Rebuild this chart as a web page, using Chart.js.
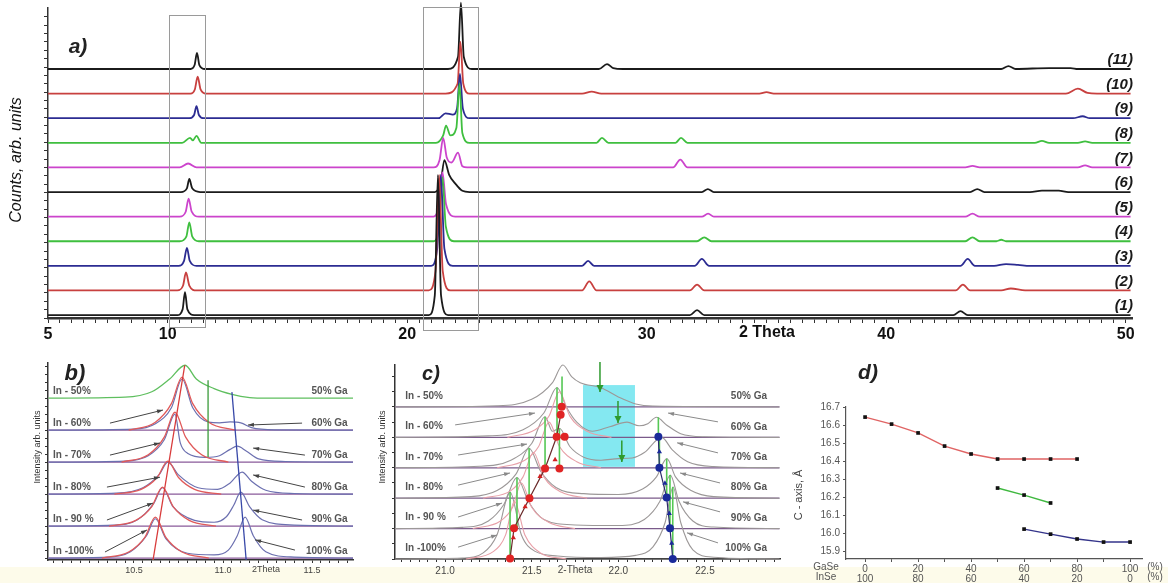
<!DOCTYPE html>
<html><head><meta charset="utf-8">
<script src="https://cdn.jsdelivr.net/npm/chart.js@4.4.1/dist/chart.umd.min.js"></script>
<style>
html,body{margin:0;padding:0;background:#fff;}
#wrap{position:relative;width:1168px;height:583px;overflow:hidden;background:#fff;}
#band{position:absolute;left:0;top:567px;width:1168px;height:16px;background:#fdfbea;}
canvas{position:absolute;left:0;top:0;}
</style></head><body>
<div id="wrap">
<div id="band"></div>
<canvas id="ca" width="1168" height="583"></canvas>
<canvas id="cb" width="1168" height="583"></canvas>
<canvas id="cc" width="1168" height="583"></canvas>
<canvas id="cd" width="1168" height="583"></canvas>
</div>
<script>
// ================= DATA =================
// ---- Panel a: XRD patterns, [2theta, counts above own baseline] ----
const aSeriesLabels = ['(1)','(2)','(3)','(4)','(5)','(6)','(7)','(8)','(9)','(10)','(11)'];
const aTickLabels = [5, 10, 20, 30, 40, 50];
const aS1 = [[5,0],[10.4,0],[10.62,2.3],[10.72,9.3],[10.82,2.3],[11.1,0],[20.9,0],[21.15,8],[21.28,57],[21.41,8],[21.7,0],[31.8,0],[32.1,2],[32.4,0],[42.8,0],[43.1,1.6],[43.4,0],[50.2,0]];
const aS2 = [[5,0],[10.4,0],[10.64,2],[10.76,7.3],[10.9,2],[11.2,0],[20.9,0],[21.18,8],[21.33,47],[21.48,8],[21.8,0],[27.3,0],[27.6,3.7],[27.9,0],[31.8,0],[32.1,2.4],[32.4,0],[42.9,0],[43.2,2.4],[43.5,0],[44.8,0],[45.2,0.8],[45.8,0],[50.2,0]];
const aS3 = [[5,0],[10.45,0],[10.68,2],[10.8,7.3],[10.92,2],[11.2,0],[21.0,0],[21.25,7],[21.4,37],[21.55,7],[21.9,0],[27.3,0],[27.55,2],[27.8,0],[32.0,0],[32.3,2.8],[32.6,0],[43.1,0],[43.4,2.8],[43.7,0],[44.5,0],[45,0.7],[45.5,0.4],[46,0],[50.2,0]];
const aS4 = [[5,0],[10.5,0],[10.78,2],[10.9,7.7],[11.02,2],[11.3,0],[21.1,0],[21.33,6],[21.47,26],[21.61,6],[21.95,0],[32.1,0],[32.4,1.6],[32.7,0],[43.3,0],[43.6,1.6],[43.9,0],[44.6,0],[44.8,0.6],[45,0],[50.2,0]];
const aS5 = [[5,0],[10.5,0],[10.75,2],[10.87,7.3],[11.0,2],[11.3,0],[21.1,0],[21.33,5],[21.47,18],[21.62,5],[22.0,0],[32.3,0],[32.56,1.2],[32.8,0],[43.3,0],[43.6,1.2],[43.9,0],[50.2,0]];
const aS6 = [[5,0],[10.55,0],[10.8,1.5],[10.9,5.3],[11.02,1.5],[11.35,0],[21.15,0],[21.4,4],[21.55,13],[21.75,7],[22.0,3.5],[22.3,0.5],[22.6,0],[32.3,0],[32.55,1.2],[32.8,0],[43.5,0],[43.8,1.2],[44.1,0],[46,0],[46.5,0.6],[47.2,0.6],[47.6,0],[50.2,0]];
const aS7 = [[5,0],[10.5,0],[10.85,1.6],[11.2,0],[21.1,0],[21.35,3],[21.5,12],[21.65,4],[21.85,2],[22.12,6],[22.3,0.5],[22.5,0],[31.1,0],[31.4,3.2],[31.7,0],[43.3,0],[43.6,0.6],[43.9,0],[48,0],[48.3,0.8],[48.6,0],[50.2,0]];
const aS8 = [[5,0],[10.6,0],[10.93,2],[11.05,1],[11.2,2.8],[11.4,0],[21.2,0],[21.5,3],[21.62,7],[21.8,3],[22.05,6],[22.18,24],[22.3,4],[22.6,0],[27.9,0],[28.13,2],[28.4,0],[31.2,0],[31.43,2],[31.7,0],[46.2,0],[46.5,0.8],[46.8,0],[48,0],[48.3,0.6],[48.6,0],[50.2,0]];
const aS9 = [[5,0],[10.9,0],[11.1,1.3],[11.2,4.9],[11.3,1.3],[11.5,0],[21.3,0],[21.6,2],[21.9,1.5],[22.08,4],[22.2,18],[22.32,4],[22.6,0],[47.8,0],[48.2,0.8],[48.5,0],[50.2,0]];
const aS10 = [[5,0],[10.95,0],[11.13,1.7],[11.25,6.9],[11.37,1.7],[11.6,0],[21.6,0],[22.1,4],[22.22,21],[22.34,4],[22.6,0],[27.3,0],[27.7,0.8],[28.1,0],[34.7,0],[35.0,0.6],[35.3,0],[47.5,0],[48.0,2],[48.4,0.3],[48.8,0],[50.2,0]];
const aS11 = [[5,0],[10.95,0],[11.12,1.6],[11.22,6.5],[11.32,1.6],[11.55,0],[21.7,0],[22.12,5],[22.24,27],[22.36,5],[22.7,0],[28.0,0],[28.34,2],[28.6,0.4],[29,0],[44.8,0],[45.1,1.2],[45.4,0],[46.8,0.4],[47.7,0.4],[48,0],[50.2,0]];

// ---- Panel b: (006)-region, levels 100% In (bottom) .. 50% In (top) ----
const bInLabels = ['In -100%','In - 90 %','In - 80%','In - 70%','In - 60%','In - 50%'];
const bGaLabels = ['100% Ga','90% Ga','80% Ga','70% Ga','60% Ga','50% Ga'];
const bTickValues = [10.5, 11.0, 11.5];
const bTickLabels = ['10.5', '11.0', '11.5'];
const bInCurves = [
  [[10.32,0],[10.47,1.9],[10.56,6.4],[10.62,12.8],[10.68,6.4],[10.77,1.9],[10.92,0]],
  [[10.36,0],[10.51,1.8],[10.60,6.1],[10.66,12.2],[10.72,6.1],[10.81,1.8],[10.96,0]],
  [[10.39,0],[10.54,1.5],[10.63,5.2],[10.69,10.3],[10.75,5.2],[10.84,1.5],[10.99,0]],
  [[10.43,0],[10.58,2.3],[10.67,7.8],[10.73,15.6],[10.79,7.8],[10.88,2.3],[11.03,0]],
  [[10.47,0],[10.62,2.5],[10.71,8.3],[10.77,16.6],[10.83,8.3],[10.92,2.5],[11.07,0]]
];
const bEnvCurves = [
  [[10.02,0],[10.35,0.3],[10.48,2],[10.57,7],[10.62,12.3],[10.68,6],[10.8,1.5],[10.95,1],[11.03,2.5],[11.08,7],[11.124,12.8],[11.17,7],[11.24,2],[11.4,0.3],[11.73,0]],
  [[10.02,0],[10.38,0.3],[10.52,2],[10.61,7],[10.66,12],[10.72,6],[10.84,1.8],[10.95,1.2],[11.02,3],[11.06,6.5],[11.10,10.6],[11.15,6],[11.22,2],[11.4,0.3],[11.73,0]],
  [[10.02,0],[10.4,0.3],[10.55,2],[10.64,6],[10.69,10],[10.75,6],[10.86,2],[10.97,1.5],[11.04,3.5],[11.107,6.9],[11.16,4],[11.24,1.2],[11.4,0.2],[11.73,0]],
  [[10.02,0],[10.45,0.3],[10.58,2],[10.67,7],[10.73,15],[10.76,6],[10.8,2.8],[10.9,1.5],[10.98,2],[11.04,4],[11.08,5],[11.13,3.5],[11.2,1],[11.35,0.2],[11.73,0]],
  [[10.02,0],[10.5,0.3],[10.62,2],[10.71,7],[10.77,16],[10.83,7],[10.92,2.5],[10.98,2.3],[11.04,2.6],[11.1,2.3],[11.16,0.8],[11.3,0.1],[11.73,0]]
];
const b50Curve = [[10.02,0],[10.45,0.3],[10.6,2],[10.7,6],[10.787,10.3],[10.85,6],[10.95,3],[11.05,1.2],[11.15,0.2],[11.25,0],[11.73,0]];
const bInTrend = [[10.607,-0.6],[10.785,60.3]];
const bGaTrend = [[11.13,-0.6],[11.05,51.9]];
const bGreenMark = [[10.916,31.6],[10.916,55.6]];

// ---- Panel c: (004)-region ----
const cTickValues = [21.0, 21.5, 22.0, 22.5];
const cTickLabels = ['21.0', '21.5', '22.0', '22.5'];
const cEnvCurves = [
  [[20.71,0],[21.1,0.3],[21.22,2],[21.3,8],[21.375,22],[21.44,8],[21.52,2.5],[21.65,1],[21.9,0.5],[22.1,1.2],[22.2,4],[22.27,12],[22.316,23.7],[22.36,12],[22.43,3],[22.55,0.6],[22.93,0]],
  [[20.71,0],[21.1,0.4],[21.25,2.5],[21.34,8],[21.415,16.8],[21.48,9],[21.57,3],[21.75,1.2],[22.0,1],[22.15,3],[22.24,9],[22.30,17.6],[22.35,9],[22.43,2.5],[22.55,0.5],[22.93,0]],
  [[20.71,0],[21.15,0.5],[21.3,2.5],[21.41,8],[21.485,16.4],[21.55,9],[21.64,3.5],[21.8,1.5],[22.0,1.2],[22.14,3],[22.22,7],[22.28,13],[22.33,7],[22.42,2.5],[22.55,0.5],[22.93,0]],
  [[20.71,0],[21.2,0.5],[21.38,2.5],[21.5,8],[21.577,16.8],[21.62,12],[21.66,13],[21.72,7],[21.8,3.5],[21.9,2.5],[22.0,3],[22.08,3.2],[22.15,5],[22.25,10],[22.31,6],[22.4,2],[22.55,0.4],[22.93,0]],
  [[20.71,0],[21.25,0.5],[21.45,2.5],[21.57,8],[21.646,16.4],[21.7,10],[21.76,5],[21.85,2],[21.95,3.5],[22.05,5],[22.12,3.8],[22.17,4.5],[22.22,6.6],[22.28,4],[22.36,1.2],[22.5,0.2],[22.93,0]],
  [[20.71,0],[21.3,0.4],[21.5,2.5],[21.62,8],[21.68,13.8],[21.73,10],[21.78,8],[21.9,6.3],[22.0,3.3],[22.1,1],[22.2,0.3],[22.93,0]]
];
const cPinkCurves = [
  [[21.12,0],[21.28,2.5],[21.35,8],[21.40,19],[21.46,8],[21.55,2],[21.7,0]],
  [[21.16,0],[21.32,2.5],[21.39,7],[21.44,15],[21.5,7],[21.6,2],[21.75,0]],
  [[21.22,0],[21.38,2.5],[21.45,7],[21.51,15],[21.57,7],[21.67,2],[21.82,0]],
  [[21.3,0],[21.46,2.5],[21.54,7],[21.6,15],[21.66,7],[21.76,2],[21.9,0]],
  [[21.36,0],[21.52,2.5],[21.6,7],[21.66,15],[21.72,7],[21.82,2],[21.96,0]]
];
const cInLabels = ['In -100%','In - 90 %','In - 80%','In - 70%','In - 60%','In - 50%'];
const cGaLabels = ['100% Ga','90% Ga','80% Ga','70% Ga','60% Ga','50% Ga'];
const cInDots = [[21.375,0.2],[21.398,10.1],[21.487,20.0],[21.577,29.8],[21.66,29.8],[21.644,40.2],[21.69,40.2],[21.667,47.4],[21.673,50.1]];
const cInSteps = [[21.394,7.0],[21.462,17.2],[21.548,27.1],[21.635,32.6]];
const cGaDots = [[22.314,0],[22.298,10.1],[22.279,20.2],[22.237,30.0],[22.231,40.2]];
const cGaSteps = [[22.308,5.2],[22.294,15.0],[22.269,24.9],[22.237,35.3]];
const cInTrend = [[21.375,0.2],[21.398,10.1],[21.487,20.0],[21.577,29.8],[21.644,40.2],[21.667,47.4]];
const cGaTrend = [[22.314,0],[22.298,10.1],[22.279,20.2],[22.237,30.0],[22.231,40.2]];
const cGreenMarks = [
  [[21.375,0],[21.375,22]],[[21.415,10],[21.415,26.8]],[[21.485,20],[21.485,36.4]],
  [[21.577,30],[21.577,46.8]],[[21.66,30],[21.66,43]],[[21.646,40],[21.646,56.4]],[[21.675,50],[21.675,60]],
  [[22.314,0],[22.314,23.7]],[[22.298,10],[22.298,27.6]],[[22.279,20],[22.279,33]],[[22.237,30],[22.237,40]],[[22.231,40],[22.231,46.6]]
];

// ---- Panel d: c-axis vs composition ----
const dGaSe = [0,10,20,30,40,50,60,70,80,90,100];
const dGaTickLabels = ['0','','20','','40','','60','','80','','100'];
const dInTickLabels = ['100','','80','','60','','40','','20','','0'];
const dYTicks = [15.9,16.0,16.1,16.2,16.3,16.4,16.5,16.6,16.7];
const dInSePhase = [16.644,16.605,16.556,16.483,16.439,16.411,16.411,16.411,16.411,null,null];
const dMixPhase  = [null,null,null,null,null,16.25,16.211,16.167,null,null,null];
const dGaSePhase = [null,null,null,null,null,null,16.022,15.994,15.967,15.95,15.95];

// ================= RENDERING =================
const W = 1168, H = 583;
const FF = '"Liberation Sans", Arial, sans-serif';
const FN = '"Liberation Sans Narrow", "Liberation Sans", Arial, sans-serif';

function makeExtras(items) {
  function draw(chart, layer) {
    const ctx = chart.ctx, xs = chart.scales.x, ys = chart.scales.y;
    const X = v => xs.getPixelForValue(v), Y = v => ys.getPixelForValue(v);
    items.forEach(it => {
      if ((it.layer || 'over') !== layer) return;
      ctx.save();
      if (it.type === 'rect') {
        const x0 = X(it.x0), x1 = X(it.x1), y0 = Y(it.y0), y1 = Y(it.y1);
        if (it.fill) { ctx.fillStyle = it.fill; ctx.fillRect(x0, y1, x1 - x0, y0 - y1); }
        if (it.stroke) { ctx.strokeStyle = it.stroke; ctx.lineWidth = it.lw || 1; ctx.strokeRect(Math.round(x0) + 0.5, Math.round(y1) + 0.5, Math.round(x1 - x0), Math.round(y0 - y1)); }
      } else if (it.type === 'arrow') {
        const ax = X(it.from[0]), ay = Y(it.from[1]), bx = X(it.to[0]), by = Y(it.to[1]);
        ctx.strokeStyle = it.color; ctx.fillStyle = it.color; ctx.lineWidth = it.lw || 1;
        ctx.beginPath(); ctx.moveTo(ax, ay); ctx.lineTo(bx, by); ctx.stroke();
        const ang = Math.atan2(by - ay, bx - ax), hl = it.head || 6, hw = it.headW || 2.2;
        ctx.beginPath(); ctx.moveTo(bx, by);
        ctx.lineTo(bx - hl * Math.cos(ang) + hw * Math.sin(ang), by - hl * Math.sin(ang) - hw * Math.cos(ang));
        ctx.lineTo(bx - hl * Math.cos(ang) - hw * Math.sin(ang), by - hl * Math.sin(ang) + hw * Math.cos(ang));
        ctx.closePath(); ctx.fill();
      } else if (it.type === 'text') {
        const x = it.px !== undefined ? it.px : X(it.x);
        const y = it.py !== undefined ? it.py : Y(it.y) + (it.dy || 0);
        ctx.font = it.font; ctx.fillStyle = it.color || '#222';
        ctx.textAlign = it.align || 'left'; ctx.textBaseline = 'middle';
        if (it.rot) { ctx.translate(x, y); ctx.rotate(it.rot); ctx.fillText(it.text, 0, 0); }
        else ctx.fillText(it.text, x, y);
      }
      ctx.restore();
    });
  }
  return { id: 'extras', beforeDatasetsDraw(c) { draw(c, 'under'); }, afterDatasetsDraw(c) { draw(c, 'over'); } };
}

function lineDS(pts, off, color, lw, extra) {
  return Object.assign({
    data: pts.map(p => ({ x: p[0], y: p[1] + off })),
    showLine: true, borderColor: color, backgroundColor: color, borderWidth: lw,
    pointRadius: 0, fill: false, cubicInterpolationMode: 'monotone', clip: false
  }, extra || {});
}
function segDS(pts, off, color, lw) {
  return lineDS(pts, off, color, lw, { cubicInterpolationMode: 'default', tension: 0 });
}
function dotDS(pts, color, r, style) {
  return { data: pts.map(p => ({ x: p[0], y: p[1] })), showLine: false, pointRadius: r, pointStyle: style || 'circle',
    backgroundColor: color, borderColor: color, borderWidth: 0, clip: false };
}

function axis(o) {
  return {
    type: 'linear', min: o.min, max: o.max, position: o.pos,
    afterBuildTicks: s => { s.ticks = o.ticks.map(v => ({ value: v })); },
    afterFit: s => { if (o.pos === 'left') s.width = o.size; else s.height = o.size; },
    ticks: { autoSkip: false, maxRotation: 0, minRotation: 0, padding: o.pad || 2,
      font: o.font || { family: FF, size: 10 }, color: o.color || '#444',
      callback: o.label || (() => '') },
    grid: { drawOnChartArea: false, drawTicks: true, tickLength: o.tl || 4, color: o.axisColor || '#333', lineWidth: 1 },
    border: { display: true, color: o.axisColor || '#333', width: o.bw || 1.5 }
  };
}

function makeChart(id, area, xOpt, yOpt, datasets, items) {
  return new Chart(document.getElementById(id), {
    type: 'scatter',
    data: { datasets },
    options: {
      responsive: false, animation: false, devicePixelRatio: 1, events: [],
      layout: { padding: { left: area.l - yOpt.size, top: area.t, right: W - area.r, bottom: H - area.b - xOpt.size } },
      plugins: { legend: { display: false }, tooltip: { enabled: false } },
      scales: { x: axis(xOpt), y: axis(yOpt) }
    },
    plugins: [makeExtras(items)]
  });
}
function range(a, b, step) { const n = Math.round((b - a) / step); const r = []; for (let i = 0; i <= n; i++) r.push(+(a + i * step).toFixed(4)); return r; }
function near(v, arr) { return arr.findIndex(t => Math.abs(t - v) < 1e-6); }

// ---------- Panel a ----------
(function () {
  const series = [aS1, aS2, aS3, aS4, aS5, aS6, aS7, aS8, aS9, aS10, aS11];
  const colors = ['#1b1b1b', '#c8403f', '#2c2c92', '#3fbf3f', '#cc44cc', '#1b1b1b', '#cc44cc', '#3fbf3f', '#2c2c92', '#c8403f', '#1b1b1b'];
  const step = 10;
  const ds = series.map((s, i) => lineDS(s, i * step, colors[i], 1.8));
  const items = [
    { type: 'rect', x0: 10.05, x1: 11.55, y0: -4.9, y1: 122, stroke: '#9a9a9a', lw: 1 },
    { type: 'rect', x0: 20.66, x1: 22.95, y0: -6.1, y1: 125.2, stroke: '#9a9a9a', lw: 1 },
    { type: 'text', text: 'a)', px: 78, py: 47, font: 'italic bold 21px ' + FF, align: 'center', color: '#222' },
    { type: 'text', text: '2 Theta', px: 767, py: 333, font: 'bold 16px ' + FF, align: 'center', color: '#111' },
    { type: 'text', text: 'Counts, arb. units', px: 17, py: 160, font: 'italic 16px ' + FN, align: 'center', color: '#111', rot: -Math.PI / 2 }
  ];
  aSeriesLabels.forEach((t, i) => items.push({ type: 'text', text: t, x: 50.3, y: i * step, dy: -9, font: 'italic bold 15px ' + FF, align: 'right', color: '#1a1a1a' }));
  makeChart('ca', { l: 48, r: 1132, t: 8, b: 318 },
    { pos: 'bottom', size: 24, min: 5, max: 50.26, ticks: range(5, 50, 0.5), tl: 5, pad: 2, bw: 2.5,
      font: { family: FF, size: 16, weight: 'bold' }, color: '#111',
      label: v => (near(v, aTickLabels) >= 0 ? String(aTickLabels[near(v, aTickLabels)]) : '') },
    { pos: 'left', size: 8, min: -1.2, max: 124.8, ticks: range(-1.2, 122, 3.4), tl: 4, bw: 1.5 },
    ds, items);
})();

// ---------- Panel b ----------
(function () {
  const step = 10;
  const ds = [];
  ds.push(segDS(bInTrend, 0, '#d83a3a', 1.3));
  ds.push(segDS(bGaTrend, 0, '#3848a8', 1.3));
  ds.push(segDS(bGreenMark, 0, '#3a9a3a', 1.3));
  bInCurves.forEach((c, i) => ds.push(lineDS(c, i * step, '#e05a5a', 1.3)));
  bEnvCurves.forEach((c, i) => ds.push(lineDS(c, i * step, '#6c70b0', 1.2)));
  ds.push(lineDS(b50Curve, 5 * step, '#5fbf5f', 1.3));
  for (let i = 0; i < 5; i++) ds.push(segDS([[10.02, 0], [11.73, 0]], i * step, '#8a5a9a', 1.3));
  const items = [
    { type: 'text', text: 'b)', px: 75, py: 374, font: 'italic bold 22px ' + FF, align: 'center', color: '#222' },
    { type: 'text', text: 'Intensity arb. units', px: 38, py: 447, font: '9px ' + FN, align: 'center', color: '#333', rot: -Math.PI / 2 },
    { type: 'text', text: '2Theta', px: 266, py: 570, font: '9px ' + FF, align: 'center', color: '#444' }
  ];
  bInLabels.forEach((t, i) => items.push({ type: 'text', text: t, x: 10.045, y: i * step, dy: -7, font: 'bold 10px ' + FF, align: 'left', color: '#555' }));
  bGaLabels.forEach((t, i) => items.push({ type: 'text', text: t, x: 11.70, y: i * step, dy: -7, font: 'bold 10px ' + FF, align: 'right', color: '#555' }));
  const arrows = [
    [[10.365, 42.2], [10.663, 46.3]], [[10.365, 32.2], [10.646, 36.0]], [[10.348, 22.2], [10.646, 25.3]],
    [[10.348, 11.9], [10.607, 17.2]], [[10.337, 1.9], [10.573, 8.8]],
    [[11.444, 42.2], [11.14, 41.6]], [[11.46, 32.2], [11.169, 34.4]], [[11.46, 22.2], [11.169, 26.0]],
    [[11.444, 11.9], [11.169, 15.0]], [[11.404, 2.5], [11.18, 5.7]]
  ];
  arrows.forEach(a => items.push({ type: 'arrow', from: a[0], to: a[1], color: '#444', lw: 1, head: 6, headW: 2 }));
  makeChart('cb', { l: 48, r: 353, t: 363, b: 560 },
    { pos: 'bottom', size: 16, min: 10.017, max: 11.73, ticks: range(10.05, 11.7, 0.05), tl: 3, pad: 2, bw: 1.5,
      font: { family: FF, size: 9 }, color: '#444',
      label: v => (near(v, bTickValues) >= 0 ? bTickLabels[near(v, bTickValues)] : '') },
    { pos: 'left', size: 6, min: -0.6, max: 61, ticks: range(0, 60, 2.5), tl: 3, bw: 1.5 },
    ds, items);
})();

// ---------- Panel c ----------
(function () {
  const step = 10;
  const ds = [];
  ds.push(dotDS(cInDots, '#e02424', 4, 'circle'));
  ds.push(dotDS(cInSteps, '#d02020', 3, 'triangle'));
  ds.push(dotDS(cGaDots, '#1a2a9a', 4, 'circle'));
  ds.push(dotDS(cGaSteps, '#1a2a9a', 3, 'triangle'));
  ds.push(segDS(cInTrend, 0, '#6a2a2a', 1.2));
  ds.push(segDS(cGaTrend, 0, '#2a2a6a', 1.2));
  cGreenMarks.forEach(m => ds.push(segDS(m, 0, '#55c855', 1.6)));
  cPinkCurves.forEach((c, i) => ds.push(lineDS(c, i * step, '#e8a0a8', 1.1)));
  cEnvCurves.forEach((c, i) => ds.push(lineDS(c, i * step, '#9c9898', 1.1)));
  for (let i = 0; i < 6; i++) ds.push(segDS([[20.711, 0], [22.93, 0]], i * step, i === 0 ? '#555' : '#7a5a8a', 1.2));
  const items = [
    { type: 'rect', layer: 'under', x0: 21.796, x1: 22.096, y0: 30.3, y1: 57.2, fill: 'rgba(110,228,238,0.85)' },
    { type: 'text', text: 'c)', px: 431, py: 374, font: 'italic bold 20px ' + FF, align: 'center', color: '#222' },
    { type: 'text', text: 'Intensity arb. units', px: 383, py: 447, font: '9px ' + FN, align: 'center', color: '#333', rot: -Math.PI / 2 },
    { type: 'text', text: '2-Theta', px: 575, py: 570, font: '10px ' + FF, align: 'center', color: '#444' },
    { type: 'arrow', from: [21.894, 64.8], to: [21.894, 54.9], color: '#2e9a2e', lw: 1.5, head: 7, headW: 3.5 },
    { type: 'arrow', from: [21.998, 52], to: [21.998, 44.7], color: '#2e9a2e', lw: 1.5, head: 7, headW: 3.5 },
    { type: 'arrow', from: [22.02, 39], to: [22.02, 31.9], color: '#2e9a2e', lw: 1.5, head: 7, headW: 3.5 }
  ];
  cInLabels.forEach((t, i) => items.push({ type: 'text', text: t, x: 20.77, y: i * step, dy: -11, font: 'bold 10px ' + FF, align: 'left', color: '#555' }));
  cGaLabels.forEach((t, i) => items.push({ type: 'text', text: t, x: 22.858, y: i * step, dy: -10.5, font: 'bold 10px ' + FF, align: 'right', color: '#555' }));
  const arrows = [
    [[21.058, 44.1], [21.519, 48.0]], [[21.075, 34.2], [21.473, 37.8]], [[21.075, 24.3], [21.375, 28.3]],
    [[21.075, 13.8], [21.329, 18.4]], [[21.075, 3.9], [21.30, 7.9]],
    [[22.575, 45.1], [22.287, 48.0]], [[22.575, 34.9], [22.339, 38.2]], [[22.587, 25], [22.356, 28.3]],
    [[22.587, 15.5], [22.373, 18.8]], [[22.575, 5.3], [22.396, 8.6]]
  ];
  arrows.forEach(a => items.push({ type: 'arrow', from: a[0], to: a[1], color: '#8a8a8a', lw: 1, head: 6, headW: 2 }));
  makeChart('cc', { l: 395, r: 780, t: 365, b: 559 },
    { pos: 'bottom', size: 17, min: 20.711, max: 22.933, ticks: range(20.75, 22.9, 0.05), tl: 3, pad: 3, bw: 1.5,
      font: { family: FF, size: 10 }, color: '#444',
      label: v => (near(v, cTickValues) >= 0 ? cTickLabels[near(v, cTickValues)] : '') },
    { pos: 'left', size: 6, min: 0, max: 63.8, ticks: range(0, 60, 5), tl: 3, bw: 1.5 },
    ds, items);
})();

// ---------- Panel d ----------
(function () {
  const mk = (vals, color) => ({
    data: dGaSe.map((x, i) => ({ x, y: vals[i] })).filter(p => p.y !== null),
    showLine: true, borderColor: color, borderWidth: 1.4, tension: 0,
    pointRadius: 2.6, pointStyle: 'rect', pointBackgroundColor: '#111', pointBorderColor: '#111', pointBorderWidth: 0, clip: false
  });
  const ds = [mk(dInSePhase, '#e06464'), mk(dMixPhase, '#3fb83f'), mk(dGaSePhase, '#34348a')];
  const items = [
    { type: 'text', text: 'd)', px: 868, py: 373, font: 'italic bold 21px ' + FF, align: 'center', color: '#222' },
    { type: 'text', text: 'C - axis, Å', px: 799, py: 495, font: '11px ' + FF, align: 'center', color: '#444', rot: -Math.PI / 2 },
    { type: 'text', text: 'GaSe', px: 826, py: 567, font: '10px ' + FF, align: 'center', color: '#555' },
    { type: 'text', text: 'InSe', px: 826, py: 577, font: '10px ' + FF, align: 'center', color: '#555' },
    { type: 'text', text: '(%)', px: 1155, py: 567, font: '10px ' + FF, align: 'center', color: '#555' },
    { type: 'text', text: '(%)', px: 1155, py: 577, font: '10px ' + FF, align: 'center', color: '#555' }
  ];
  makeChart('cd', { l: 846, r: 1142, t: 407, b: 559 },
    { pos: 'bottom', size: 24, min: -7.2, max: 104.5, ticks: dGaSe, tl: 3, pad: 0, bw: 1.2, axisColor: '#555',
      font: { family: FF, size: 10, lineHeight: 1.0 }, color: '#555',
      label: v => { const k = near(v, dGaSe); return (k >= 0 && dGaTickLabels[k] !== '') ? [dGaTickLabels[k], dInTickLabels[k]] : ''; } },
    { pos: 'left', size: 34, min: 15.856, max: 16.7, ticks: dYTicks, tl: 3, pad: 3, bw: 1.2, axisColor: '#555',
      font: { family: FF, size: 10 }, color: '#555',
      label: v => v.toFixed(1) },
    ds, items);
})();
</script>
</body></html>
